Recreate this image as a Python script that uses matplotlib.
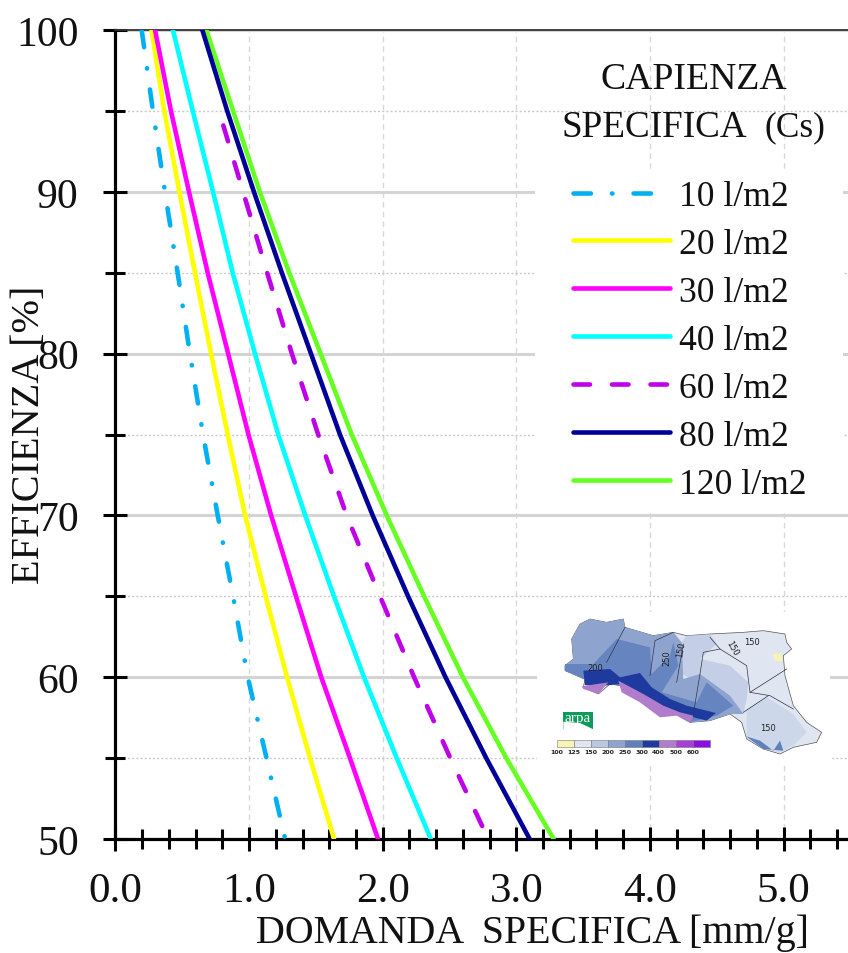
import matplotlib
matplotlib.use("Agg")
import matplotlib.pyplot as plt
from matplotlib.legend_handler import HandlerLine2D
from matplotlib.patches import Polygon, Rectangle
from matplotlib.ticker import MultipleLocator, FormatStrFormatter

plt.rcParams["font.family"] = ["Liberation Serif", "DejaVu Serif"]

W, H = 848, 954

# efficiency levels the curves were read at
eff = [100, 95, 90, 85, 80, 75, 70, 65, 60, 55, 50]

cs_10 = [0.196, 0.28, 0.37, 0.465, 0.557, 0.655, 0.765, 0.88, 0.99, 1.13, 1.27]
cs_20 = [0.27, 0.365, 0.478, 0.595, 0.715, 0.84, 0.97, 1.124, 1.284, 1.456, 1.636]
cs_30 = [0.296, 0.415, 0.55, 0.69, 0.843, 0.995, 1.165, 1.351, 1.54, 1.755, 1.965]
cs_40 = [0.43, 0.578, 0.73, 0.877, 1.044, 1.218, 1.42, 1.635, 1.86, 2.105, 2.36]
eff_60 = [94.1, 90, 85, 80, 75, 70, 65, 60, 55, 50]
cs_60 = [0.807, 0.955, 1.135, 1.32, 1.517, 1.73, 1.98, 2.235, 2.506, 2.79]
cs_80 = [0.65, 0.836, 1.036, 1.245, 1.463, 1.68, 1.925, 2.19, 2.47, 2.775, 3.10]
cs_120 = [0.68, 0.88, 1.08, 1.30, 1.535, 1.768, 2.03, 2.31, 2.60, 2.925, 3.28]

legend_labels = ["10 l/m2", "20 l/m2", "30 l/m2", "40 l/m2", "60 l/m2", "80 l/m2", "120 l/m2"]

# map scale
map_classes = ["100", "125", "150", "200", "250", "300", "400", "500", "600"]
map_colors = ["#f6f3b4", "#dfe5f1", "#b9c7e3", "#8ea4cf", "#5f7fbd", "#1f3a9e", "#b07ccc", "#a53fd8", "#8a10e0"]

# map shapes, in pixels of a 954x510 box
outline = [(105, 200), (130, 180), (125, 120), (150, 75), (180, 60), (230, 70), (280, 60), (285, 85), (370, 110),
           (430, 100), (470, 110), (540, 105), (640, 100), (700, 95), (765, 105), (770, 130), (785, 150), (760, 170),
           (765, 230), (790, 320), (830, 370), (875, 400), (860, 430), (790, 445), (750, 465), (700, 450), (650, 420),
           (635, 370), (600, 345), (540, 365), (480, 370), (440, 345), (390, 330), (330, 300), (270, 260), (240, 255),
           (205, 285), (160, 265), (165, 240), (105, 215)]
zone_150 = [(450, 135), (470, 110), (540, 105), (560, 135), (510, 180), (600, 200), (655, 250), (650, 300), (640, 345),
            (600, 345), (540, 300), (480, 240), (450, 220)]
zone_romagna = [(650, 330), (710, 295), (790, 345), (830, 400), (790, 440), (750, 460), (700, 450), (650, 420)]
zone_200 = [(105, 200), (130, 180), (125, 120), (150, 75), (180, 60), (230, 70), (280, 60), (285, 85), (370, 110),
            (430, 100), (455, 130), (460, 240), (510, 225), (600, 290), (640, 345), (600, 345), (540, 365), (480, 370),
            (440, 345), (390, 330), (330, 300), (270, 260), (160, 240), (105, 215)]
zone_250 = [(105, 195), (190, 195), (260, 120), (360, 145), (365, 225), (420, 170), (430, 130), (445, 200), (395, 280),
            (500, 310), (530, 250), (610, 320), (560, 350), (480, 370), (440, 345), (390, 330), (330, 300), (270, 260),
            (160, 240), (105, 215)]
zone_300 = [(160, 215), (240, 210), (270, 235), (330, 222), (365, 265), (420, 300), (470, 320), (510, 330), (558, 342),
            (530, 365), (480, 352), (440, 345), (390, 330), (330, 295), (270, 255), (200, 262), (165, 258)]
zone_500 = [(155, 262), (235, 250), (205, 285), (160, 270)]
zone_500b = [(265, 245), (340, 285), (400, 320), (450, 340), (490, 350), (480, 372), (440, 350), (390, 355), (330, 310),
             (275, 280)]
zone_south = [(648, 412), (690, 425), (730, 455), (750, 425), (760, 455), (700, 450)]
yellow_spot = [(727, 165), (755, 162), (758, 188), (735, 185)]
borders = [[(230, 190), (285, 85)], [(360, 230), (375, 125), (430, 100)], [(440, 250), (460, 135)],
           [(490, 345), (510, 225), (520, 160), (570, 150), (650, 200), (660, 280), (720, 290), (790, 330)],
           [(640, 340), (715, 290)], [(540, 115), (570, 150)], [(660, 280), (770, 210)]]
map_numbers = [("150", 665, 128, 0), ("150", 608, 145, -60), ("250", 410, 175, 90), ("150", 715, 385, 0),
               ("200", 195, 205, 0), ("150", 452, 150, 80)]


class ShortHandle(HandlerLine2D):
    # the dash-dot sample stops after its second dash
    def get_xdata(self, legend, xdescent, ydescent, width, height, fontsize):
        xdata, xmark = super().get_xdata(legend, xdescent, ydescent, width, height, fontsize)
        return [xdata[0], xdata[0] + 0.81 * width], xmark


fig = plt.figure(figsize=(W / 100, H / 100), dpi=100)
x0, x_unit = 115.5, 133.6
ax = fig.add_axes([x0 / W, (H - 840) / H, (W - x0) / W, (840 - 31) / H])
ax.set_xlim(0, (W - x0) / x_unit)
ax.set_ylim(50, 100)

ax.xaxis.set_major_locator(MultipleLocator(1))
ax.xaxis.set_minor_locator(MultipleLocator(0.2))
ax.yaxis.set_major_locator(MultipleLocator(10))
ax.yaxis.set_minor_locator(MultipleLocator(5))
ax.xaxis.set_major_formatter(FormatStrFormatter("%.1f"))

ax.set_axisbelow(True)
ax.grid(True, axis="y", which="major", color="#d4d4d4", lw=2.2, ls="-")
ax.grid(True, axis="y", which="minor", color="#c8c8c8", lw=1.0, ls=(0, (1.5, 1.5)))
ax.grid(True, axis="x", which="major", color="#d8d8d8", lw=1.0, ls=(0, (4, 3)))

ax.spines["right"].set_visible(False)
ax.spines["top"].set_linewidth(1.3)
ax.spines["top"].set_color("#333333")
ax.spines["left"].set_linewidth(2.3)
ax.spines["bottom"].set_linewidth(2.3)

ax.tick_params(axis="x", which="major", direction="inout", length=17, width=2.2, labelsize=31, pad=15, labelcolor="#111111")
ax.tick_params(axis="x", which="minor", direction="inout", length=15, width=2.2)
ax.tick_params(axis="y", which="major", direction="inout", length=17, width=2.2, labelsize=30, pad=18, labelcolor="#111111")
ax.tick_params(axis="y", which="minor", direction="inout", length=15, width=2.2)

# white masks behind legend and map
px = fig.transFigure
ax.add_patch(Rectangle((535 / W, 1 - 510 / H), 308 / W, 340 / H, transform=px, fc="white", ec="none", zorder=1))
ax.add_patch(Rectangle((537 / W, 1 - 765 / H), 293 / W, 152 / H, transform=px, fc="white", ec="none", zorder=1))

lw = 3.3
caps = dict(solid_capstyle="round", dash_capstyle="round")
l10, = ax.plot(cs_10, eff, color="#00b0f0", lw=lw, ls=(0, (3.8, 4.6, 0.1, 4.6)), zorder=3, **caps)
l20, = ax.plot(cs_20, eff, color="#ffff00", lw=lw, zorder=3, **caps)
l30, = ax.plot(cs_30, eff, color="#ff00ff", lw=lw, zorder=3, **caps)
l40, = ax.plot(cs_40, eff, color="#00ffff", lw=lw, zorder=3, **caps)
l60, = ax.plot(cs_60, eff_60, color="#c000e8", lw=lw, ls=(0, (3.6, 4.8)), zorder=3, **caps)
l120, = ax.plot(cs_120, eff, color="#66ff22", lw=lw, zorder=3, **caps)
l80, = ax.plot(cs_80, eff, color="#000099", lw=lw, zorder=4, **caps)

leg = ax.legend([l10, l20, l30, l40, l60, l80, l120], legend_labels, loc="upper left",
                bbox_to_anchor=(573 / W, 1 - 181 / H), bbox_transform=px, frameon=False,
                fontsize=25.7, labelspacing=0.42, handlelength=2.72, handletextpad=0.25,
                borderpad=0, borderaxespad=0, labelcolor="#111111",
                handler_map={l10: ShortHandle()})
leg.set_zorder(5)

fig.text(694 / W, 1 - 80 / H, "CAPIENZA", fontsize=27.2, ha="center", va="center", color="#111111")
fig.text(562 / W, 1 - 128 / H, "SPECIFICA", fontsize=26.7, ha="left", va="center", color="#111111")
fig.text(764 / W, 1 - 128 / H, "(Cs)", fontsize=25.5, ha="left", va="center", color="#111111")

fig.text(532 / W, 1 - 933 / H, "DOMANDA  SPECIFICA [mm/g]", fontsize=28.7, ha="center", va="center", color="#111111")
fig.text(30 / W, 1 - 435 / H, "EFFICIENZA [%]", fontsize=29, rotation=90, ha="center", va="center", color="#111111")

# map inset
m = fig.add_axes([530 / W, 1 - 770 / H, 318 / W, 170 / H], zorder=6)
m.set_xlim(0, 954)
m.set_ylim(510, 0)
m.axis("off")
m.add_patch(Polygon(outline, fc=map_colors[1], ec="#555555", lw=0.5))
m.add_patch(Polygon(zone_150, fc=map_colors[2], ec="none", alpha=0.7))
m.add_patch(Polygon(zone_romagna, fc=map_colors[2], ec="none", alpha=0.45))
m.add_patch(Polygon(zone_200, fc=map_colors[3], ec="none"))
m.add_patch(Polygon(zone_250, fc=map_colors[4], ec="none", alpha=0.85))
m.add_patch(Polygon(zone_300, fc=map_colors[5], ec="none"))
m.add_patch(Polygon(zone_500, fc=map_colors[6], ec="none"))
m.add_patch(Polygon(zone_500b, fc=map_colors[6], ec="none"))
m.add_patch(Polygon(zone_south, fc=map_colors[4], ec="none"))
m.add_patch(Polygon(yellow_spot, fc=map_colors[0], ec="none"))
for b in borders:
    m.plot([p[0] for p in b], [p[1] for p in b], color="#333344", lw=0.5)
for txt, xp, yp, rot in map_numbers:
    m.text(xp, yp, txt, fontsize=6, rotation=rot, ha="center", va="center", color="#222222", family="DejaVu Sans")

# scale bar, one box per class
for i, c in enumerate(map_colors):
    m.bar(107 + i * 51, 19, width=51, bottom=424, color=c, edgecolor="#777777", linewidth=0.4)
    m.text(80 + i * 51, 457, map_classes[i], fontsize=4.5, fontweight="bold", ha="center", va="center",
           color="#222222", family="DejaVu Sans")

# arpa logo
m.add_patch(Rectangle((100, 338), 88, 52, fc="#0c9b5a", ec="none"))
m.add_patch(Polygon([(100, 368), (150, 372), (188, 390), (100, 390)], fc="white", ec="none"))
m.text(144, 355, "arpa", fontsize=11, ha="center", va="center", color="white", family="Liberation Serif")

fig.savefig("out.png", dpi=100)
